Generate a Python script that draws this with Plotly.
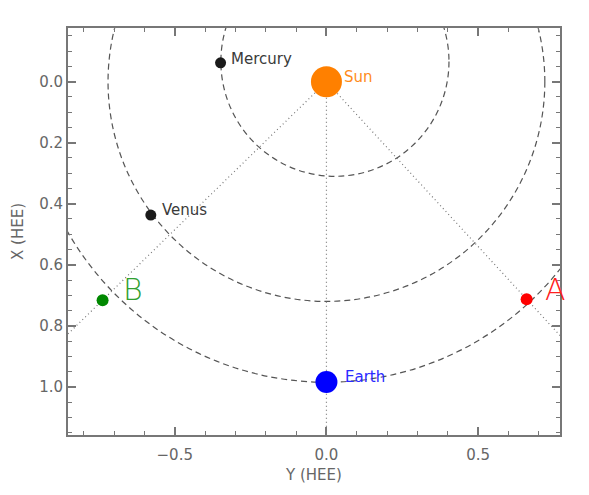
import numpy as np
import plotly.graph_objects as go

# ---- data (HEE coordinates, AU) ----
bodies = ["Mercury", "Venus", "Sun", "Earth", "A", "B"]
hee_y = [-0.349, -0.579, 0.0, 0.0, 0.660, -0.738]
hee_x = [-0.062, 0.437, 0.0, 0.984, 0.713, 0.716]
body_colors = ["#1a1a1a", "#1a1a1a", "#ff8000", "#0000ff", "#ff0000", "#008800"]
body_sizes = [11, 11, 31, 22, 12, 12]

label_text = ["Mercury", "Venus", "Sun", "Earth", "A", "B"]
label_colors = ["#3a3a3a", "#3a3a3a", "#ff8c1a", "#2a2aff", "#ff2020", "#30a030"]

orbit_names = ["Mercury", "Venus", "Earth"]
orbit_center_y = [0.028, 0.0, 0.0]
orbit_center_x = [-0.066, 0.0, 0.0]
orbit_radius = [0.376, 0.72, 0.985]

ray_targets = ["A", "B", "Earth"]

x_ticks = [-0.5, 0.0, 0.5]
y_ticks = [0.0, 0.2, 0.4, 0.6, 0.8, 1.0]

fig = go.Figure()

# orbits as dashed circles
shapes = []
for cy, cx, r in zip(orbit_center_y, orbit_center_x, orbit_radius):
    shapes.append(dict(type="circle", xref="x", yref="y",
                       x0=cy - r, x1=cy + r, y0=cx - r, y1=cx + r,
                       line=dict(color="#555555", width=1.2, dash="6px,4px"),
                       layer="below"))

# dotted rays from Sun through spacecraft / Earth
si = bodies.index("Sun")
for t in ray_targets:
    i = bodies.index(t)
    dy = hee_y[i] - hee_y[si]
    dx = hee_x[i] - hee_x[si]
    fig.add_trace(go.Scatter(
        x=[hee_y[si], hee_y[si] + 3 * dy], y=[hee_x[si], hee_x[si] + 3 * dx],
        mode="lines", line=dict(color="#777777", width=1.2, dash="1px,3px"),
        hoverinfo="skip", showlegend=False))

fig.add_trace(go.Scatter(
    x=hee_y, y=hee_x, mode="markers",
    marker=dict(color=body_colors, size=body_sizes, opacity=1, line=dict(width=0)),
    text=bodies, showlegend=False))

label_shift = {"Mercury": (8, 4), "Venus": (9, 5), "Sun": (16, 5),
               "Earth": (17, 5), "A": (16, 10), "B": (18, 11)}
label_size = {"Mercury": 15, "Venus": 15, "Sun": 15, "Earth": 15, "A": 30, "B": 30}
annotations = []
for b, t, c in zip(bodies, label_text, label_colors):
    i = bodies.index(b)
    xs, ys = label_shift[b]
    annotations.append(dict(
        x=hee_y[i], y=hee_x[i], xref="x", yref="y", text=t, showarrow=False,
        xanchor="left", yanchor="middle", xshift=xs, yshift=ys,
        font=dict(family="DejaVu Sans", size=label_size[b], color=c,
                  weight=200 if b in ("A", "B") else 400)))

axis_common = dict(
    showline=True, linecolor="#777777", linewidth=2, mirror="allticks",
    ticks="inside", ticklen=8, tickwidth=1.5, tickcolor="#777777",
    showgrid=False, zeroline=False, tickformat=".1f",
    tickfont=dict(family="DejaVu Sans", size=15, color="#666666"),
)

# page body has an 8px default margin: shrink the figure and margins to compensate
fig.update_layout(
    width=581, height=487,
    margin=dict(l=60, r=29, t=20, b=60, autoexpand=False),
    plot_bgcolor="white", paper_bgcolor="white",
    shapes=shapes, annotations=annotations,
    xaxis=dict(range=[-0.852, 0.77], tickvals=x_ticks, ticklabelstandoff=5,
               minor=dict(dtick=0.1, tick0=0, ticks="inside", ticklen=4,
                          tickcolor="#777777", tickwidth=1.2),
               title=dict(text="Y (HEE)", standoff=6,
                          font=dict(family="DejaVu Sans", size=15, color="#666666")),
               **axis_common),
    yaxis=dict(range=[1.158, -0.176], tickvals=y_ticks,
               minor=dict(dtick=0.05, tick0=0, ticks="inside", ticklen=4,
                          tickcolor="#777777", tickwidth=1.2),
               title=dict(text="X (HEE)", standoff=12,
                          font=dict(family="DejaVu Sans", size=15, color="#666666")),
               **axis_common),
)

fig.write_html("out.html")
